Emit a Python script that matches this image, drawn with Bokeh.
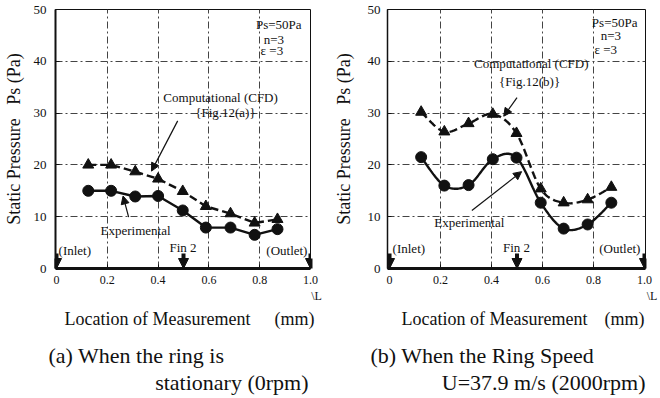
import numpy as np
from bokeh.plotting import figure
from bokeh.models import Label, Arrow, NormalHead, FixedTicker, Range1d
from bokeh.layouts import row, column
from bokeh.embed import file_html
from bokeh.resources import INLINE

# ---------------- data ----------------
x_loc_a = [0.125, 0.215, 0.31, 0.40, 0.497, 0.588, 0.685, 0.78, 0.87]
cfd_a = [20.0, 20.0, 18.7, 17.3, 14.9, 12.0, 10.6, 8.8, 9.5]
exp_a = [15.0, 15.0, 13.9, 14.0, 11.2, 7.9, 7.9, 6.5, 7.6]

x_loc_b = [0.124, 0.215, 0.31, 0.405, 0.498, 0.593, 0.683, 0.777, 0.87]
cfd_b = [30.2, 26.4, 28.0, 29.8, 26.1, 15.4, 12.7, 13.3, 15.7]
exp_b = [21.5, 16.0, 16.1, 21.1, 21.4, 12.7, 7.7, 8.5, 12.7]

x_ticks = [0, 0.2, 0.4, 0.6, 0.8, 1.0]
x_tick_labels = ["0", "0.2", "0.4", "0.6", "0.8", "1.0"]
y_ticks = [0, 10, 20, 30, 40, 50]
grid_x = [0.2, 0.4, 0.6, 0.8]
grid_y = [10, 20, 30, 40]
marker_x = [0.0, 0.5, 1.0]

FONT = "Liberation Serif"
INK = "#111111"
NB = "\u00a0"


def smooth(xs, ys, n=24):
    """Catmull-Rom curve through the given points (drawing only)."""
    P = np.column_stack([xs, ys]).astype(float)
    P = np.vstack([P[0], P, P[-1]])
    out = []
    for i in range(1, len(P) - 2):
        p0, p1, p2, p3 = P[i - 1], P[i], P[i + 1], P[i + 2]
        t = np.linspace(0, 1, n, endpoint=False)[:, None]
        c = 0.5 * ((2 * p1) + (-p0 + p2) * t + (2 * p0 - 5 * p1 + 4 * p2 - p3) * t ** 2
                   + (-p0 + 3 * p1 - 3 * p2 + p3) * t ** 3)
        out.append(c)
    out.append(P[-2][None, :])
    c = np.vstack(out)
    return c[:, 0], c[:, 1]


def txt(p, x, y, s, size=13, align="center", baseline="middle", angle=0.0):
    p.add_layout(Label(x=x, y=y, text=s, text_font=FONT, text_font_size=f"{size}px",
                       text_color=INK, text_align=align, text_baseline=baseline,
                       angle=angle))


def arrow(p, x0, y0, x1, y1, lw=1.2, size=8):
    p.add_layout(Arrow(x_start=x0, y_start=y0, x_end=x1, y_end=y1, line_width=lw,
                       line_color=INK,
                       end=NormalHead(size=size, fill_color=INK, line_color=INK)))


def base_fig(xr, bl, br, left_lw, lab_standoff, ylab_standoff, pad_L):
    p = figure(width=330, height=306, output_backend="svg", toolbar_location=None,
               x_range=Range1d(*xr), y_range=Range1d(0, 50),
               min_border_left=bl, min_border_right=br, min_border_top=9,
               min_border_bottom=36)
    p.background_fill_color = "white"
    p.border_fill_color = "white"
    p.outline_line_color = INK
    p.outline_line_width = 1
    p.xaxis.ticker = FixedTicker(ticks=x_ticks)
    labels = list(x_tick_labels)
    labels[-1] = labels[-1] + "\n" + NB * pad_L + "\\L"
    p.xaxis.major_label_overrides = dict(zip(x_ticks, labels))
    p.yaxis.ticker = FixedTicker(ticks=y_ticks)
    p.xaxis.major_tick_in = 4
    p.xaxis.major_tick_out = 0
    p.yaxis.major_tick_in = 4
    p.yaxis.major_tick_out = 0
    p.xaxis.minor_tick_line_color = None
    p.yaxis.minor_tick_line_color = None
    p.xaxis.major_tick_line_color = INK
    p.yaxis.major_tick_line_color = INK
    p.xaxis.axis_line_color = INK
    p.yaxis.axis_line_color = INK
    p.xaxis.major_label_text_font = FONT
    p.yaxis.major_label_text_font = FONT
    p.xaxis.major_label_text_color = INK
    p.yaxis.major_label_text_color = INK
    p.xaxis.axis_line_width = 3
    p.yaxis.axis_line_width = left_lw
    p.xaxis.major_label_text_font_size = "12px"
    p.yaxis.major_label_text_font_size = "13px"
    p.xaxis.major_label_standoff = 4
    p.yaxis.major_label_standoff = lab_standoff
    p.yaxis.axis_label = "Static Pressure" + NB * 3 + "Ps (Pa)"
    p.yaxis.axis_label_text_font = FONT
    p.yaxis.axis_label_text_font_size = "18px"
    p.yaxis.axis_label_text_font_style = "normal"
    p.yaxis.axis_label_text_color = INK
    p.yaxis.axis_label_standoff = ylab_standoff
    p.xgrid.ticker = FixedTicker(ticks=grid_x)
    p.ygrid.ticker = FixedTicker(ticks=grid_y)
    for g in (p.xgrid[0], p.ygrid[0]):
        g.grid_line_color = "#444444"
        g.grid_line_width = 1
        g.grid_line_dash = "7 3 2 3"
    return p


# ---------------- (a) stationary ----------------
pa = base_fig((-0.004, 1.0), 52, 20, 2, 9, 7, 4)
pa.line(x_loc_a, cfd_a, line_color=INK, line_width=2.4, line_dash="8 4")
pa.scatter(x_loc_a, cfd_a, marker="triangle", size=11, fill_color=INK, line_color=INK)
pa.line(x_loc_a, exp_a, line_color=INK, line_width=2.4)
pa.scatter(x_loc_a, exp_a, marker="circle", size=11, fill_color=INK, line_color=INK)

for mx in marker_x:
    arrow(pa, mx, 2.9, mx, 0.0, lw=4, size=10)

txt(pa, 0.008, 3.4, "(Inlet)", 13, align="left")
txt(pa, 0.988, 3.4, "(Outlet)", 13, align="right")
txt(pa, 0.498, 4.0, "Fin 2", 13)
txt(pa, 0.875, 47.1, "Ps=50Pa", 13)
txt(pa, 0.856, 44.2, "n=3", 13)
txt(pa, 0.848, 42.1, "ε =3", 13)
txt(pa, 0.646, 33.1, "Computational (CFD)", 13)
txt(pa, 0.665, 30.2, "{Fig.12(a)}", 13)
arrow(pa, 0.477, 28.5, 0.374, 18.8)
txt(pa, 0.311, 7.3, "Experimental", 13)
arrow(pa, 0.284, 9.9, 0.262, 14.0)

# ---------------- (b) rotating ----------------
pb = base_fig((-0.008, 1.004), 55, 15, 1.5, 7, 11, 5)
cx, cy = smooth(x_loc_b, cfd_b)
ex, ey = smooth(x_loc_b, exp_b)
pb.line(cx, cy, line_color=INK, line_width=2.4, line_dash="8 4")
pb.scatter(x_loc_b, cfd_b, marker="triangle", size=11, fill_color=INK, line_color=INK)
pb.line(ex, ey, line_color=INK, line_width=2.4)
pb.scatter(x_loc_b, exp_b, marker="circle", size=11, fill_color=INK, line_color=INK)

for mx in marker_x:
    arrow(pb, mx, 2.9, mx, 0.0, lw=4, size=10)

txt(pb, 0.012, 3.8, "(Inlet)", 13, align="left")
txt(pb, 0.984, 3.8, "(Outlet)", 13, align="right")
txt(pb, 0.498, 4.1, "Fin 2", 13)
txt(pb, 0.883, 47.5, "Ps=50Pa", 13)
txt(pb, 0.868, 44.9, "n=3", 13)
txt(pb, 0.848, 42.2, "ε =3", 13)
txt(pb, 0.556, 39.5, "Computational (CFD)", 13)
txt(pb, 0.549, 36.1, "{Fig.12(b)}", 13)
arrow(pb, 0.50, 33.0, 0.448, 29.4)
txt(pb, 0.313, 8.9, "Experimental", 13)
arrow(pb, 0.323, 11.2, 0.518, 18.7)

# ---------------- captions (pixel-positioned text strip) ----------------
cap = figure(width=660, height=91, output_backend="svg", toolbar_location=None,
             x_range=Range1d(0, 660), y_range=Range1d(91, 0),
             x_axis_type=None, y_axis_type=None,
             min_border_left=0, min_border_right=0, min_border_top=0, min_border_bottom=0)
cap.outline_line_color = None
cap.grid.visible = False
cap.background_fill_color = "white"
cap.border_fill_color = "white"

txt(cap, 157, 12, "Location of Measurement", 18)
txt(cap, 294, 12, "(mm)", 18)
txt(cap, 48, 49, "(a) When the ring is", 22, align="left")
txt(cap, 308, 76, "stationary (0rpm)", 22, align="right")

txt(cap, 494, 12, "Location of Measurement", 18)
txt(cap, 624, 12, "(mm)", 18)
txt(cap, 370, 49, "(b) When the Ring Speed", 22, align="left")
txt(cap, 645, 76, "U=37.9 m/s (2000rpm)", 22, align="right")

layout = column(row(pa, pb), cap)
open("out.html", "w").write(file_html(layout, INLINE))
